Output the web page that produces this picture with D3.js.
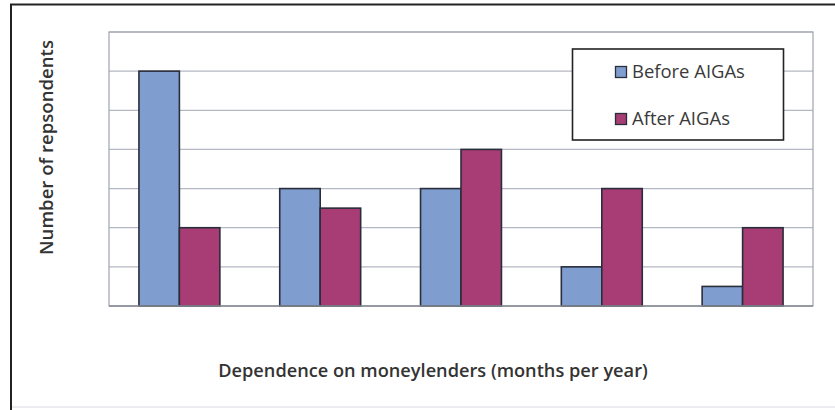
<!DOCTYPE html>
<html><head><meta charset="utf-8">
<script src="https://cdn.jsdelivr.net/npm/d3@7"></script>
<style>body{margin:0;background:#fff}svg{display:block}</style>
</head><body>
<script>
const categories = ["1", "2", "3", "4", "5"];
const series = ["Before AIGAs", "After AIGAs"];
const before = [6, 3, 3, 1, 0.5];
const after = [2, 2.5, 4, 3, 2];
const yTicks = [0, 1, 2, 3, 4, 5, 6, 7];
const colors = ["#7f9ecf", "#a83c74"];

const W = 835, H = 410;
const svg = d3.select("body").append("svg").attr("width", W).attr("height", H);

// outer frame (right and bottom edges run off the picture)
svg.append("rect").attr("x", 11).attr("y", 4.5).attr("width", 840).attr("height", 420)
  .attr("fill", "#fff").attr("stroke", "#222").attr("stroke-width", 2);
svg.append("line").attr("x1", 12).attr("x2", W).attr("y1", 407).attr("y2", 407)
  .attr("stroke", "#e4e6ea").attr("stroke-width", 1.5);

const m = {l: 109, t: 32, r: 813, b: 306};
const x0 = d3.scaleBand().domain(categories).range([m.l, m.r]).paddingInner(0).paddingOuter(0);
const x1 = d3.scaleBand().domain(series).range([0, x0.bandwidth()]).paddingInner(0).paddingOuter(0.74);
const y = d3.scaleLinear().domain([0, 7]).range([m.b, m.t]);

// gridlines
svg.append("g").selectAll("line").data(yTicks).join("line")
  .attr("x1", m.l).attr("x2", m.r).attr("y1", d => y(d)).attr("y2", d => y(d))
  .attr("stroke", "#b4b8c2").attr("stroke-width", 1.2);
// plot border
svg.append("rect").attr("x", m.l).attr("y", m.t).attr("width", m.r - m.l).attr("height", m.b - m.t)
  .attr("fill", "none").attr("stroke", "#a0a4ac").attr("stroke-width", 1.2);

const data = categories.map((c, i) => ({c, vals: [before[i], after[i]]}));
svg.append("g").selectAll("g").data(data).join("g")
  .attr("transform", d => `translate(${x0(d.c)},0)`)
  .selectAll("rect").data(d => d.vals.map((v, j) => ({s: series[j], v, j}))).join("rect")
  .attr("x", d => x1(d.s)).attr("width", x1.bandwidth())
  .attr("y", d => y(d.v)).attr("height", d => y(0) - y(d.v))
  .attr("fill", d => colors[d.j]).attr("stroke", "#2a2d3a").attr("stroke-width", 1.6);

// x axis baseline
svg.append("line").attr("x1", m.l).attr("x2", m.r).attr("y1", y(0)).attr("y2", y(0))
  .attr("stroke", "#8a8e96").attr("stroke-width", 1.5);

function fit(sel, target) {
  const w = sel.node().getComputedTextLength();
  const fs = parseFloat(sel.attr("font-size"));
  sel.attr("font-size", fs * target / w);
}

// legend
svg.append("rect").attr("x", 572.5).attr("y", 49).attr("width", 211).attr("height", 91)
  .attr("fill", "#fff").attr("stroke", "#222").attr("stroke-width", 1.6);
const ly = [78, 125], lw = [113, 98];
series.forEach((s, i) => {
  svg.append("rect").attr("x", 615.5).attr("y", ly[i] - 11.5).attr("width", 11).attr("height", 11)
    .attr("fill", colors[i]).attr("stroke", "#2a2d3a").attr("stroke-width", 1.3);
  const t = svg.append("text").attr("x", 632).attr("y", ly[i]).attr("font-family", "Open Sans")
    .attr("font-size", 17).attr("fill", "#3a3a3a").text(s);
  fit(t, lw[i]);
});

// axis titles
const xt = svg.append("text").attr("x", 433).attr("y", 377).attr("text-anchor", "middle")
  .attr("font-family", "Open Sans").attr("font-weight", 600).attr("font-size", 16)
  .attr("fill", "#333").text("Dependence on moneylenders (months per year)");
fit(xt, 430);
const yt = svg.append("text").attr("transform", "translate(53,147.5) rotate(-90)").attr("text-anchor", "middle")
  .attr("font-family", "Open Sans").attr("font-weight", 600).attr("font-size", 15)
  .attr("fill", "#333").text("Number of repsondents");
fit(yt, 215);
</script>
</body></html>
